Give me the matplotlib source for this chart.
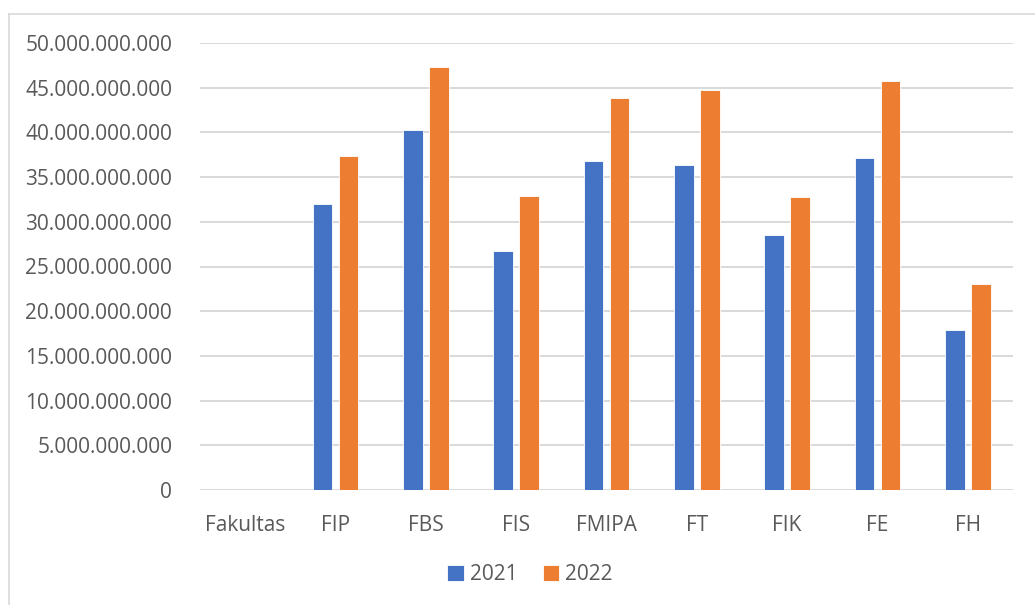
import matplotlib.pyplot as plt
import numpy as np
from matplotlib.ticker import FuncFormatter

fakultas = ['Fakultas', 'FIP', 'FBS', 'FIS', 'FMIPA', 'FT', 'FIK', 'FE', 'FH']
nilai_2021 = [0, 32.0e9, 40.3e9, 26.7e9, 36.8e9, 36.3e9, 28.5e9, 37.1e9, 17.9e9]
nilai_2022 = [0, 37.4e9, 47.3e9, 32.9e9, 43.9e9, 44.7e9, 32.8e9, 45.8e9, 23.0e9]
tahun = ['2021', '2022']

plt.rcParams['font.family'] = ['Open Sans', 'DejaVu Sans']
teks = '#595959'
biru = '#4472C4'
oranye = '#ED7D31'

fig = plt.figure(figsize=(10.35, 6.05), dpi=100)
ax = fig.add_axes([200 / 1035, 1 - 490 / 605, 813 / 1035, 447 / 605])

x = np.arange(len(fakultas))
lebar = 0.22
ax.bar(x - 0.144, nilai_2021, lebar, color=biru, edgecolor='white', linewidth=0.6, label=tahun[0], zorder=3)
ax.bar(x + 0.144, nilai_2022, lebar, color=oranye, edgecolor='white', linewidth=0.6, label=tahun[1], zorder=3)

ax.set_xlim(-0.5, len(fakultas) - 0.5)
ax.set_ylim(0, 50e9)
ax.set_yticks(np.arange(0, 50e9 + 1, 5e9))
ax.yaxis.set_major_formatter(FuncFormatter(lambda v, p: f'{int(round(v)):,}'.replace(',', '.')))
ax.set_xticks(x)
ax.set_xticklabels(fakultas)
ax.grid(axis='y', color='#d9d9d9', linewidth=1.4, zorder=0)
for s in ax.spines.values():
    s.set_visible(False)
ax.tick_params(axis='y', length=0, pad=20, labelsize=15, labelcolor=teks)
ax.tick_params(axis='x', length=0, pad=18, labelsize=15, labelcolor=teks)

leg = fig.legend(loc='center', bbox_to_anchor=(530 / 1035, 1 - 575 / 605), ncol=2, frameon=False,
                 fontsize=15, handlelength=0.8, handleheight=0.8, handletextpad=0.3, columnspacing=1.2)
for t in leg.get_texts():
    t.set_color(teks)

# chart frame (left and top edges visible)
fig.add_artist(plt.Line2D([9 / 1035, 9 / 1035], [0, 1 - 14 / 605], color='#d9d9d9', linewidth=1.2))
fig.add_artist(plt.Line2D([9 / 1035, 1], [1 - 14 / 605, 1 - 14 / 605], color='#d9d9d9', linewidth=1.2))

fig.savefig('out.png', dpi=100)
